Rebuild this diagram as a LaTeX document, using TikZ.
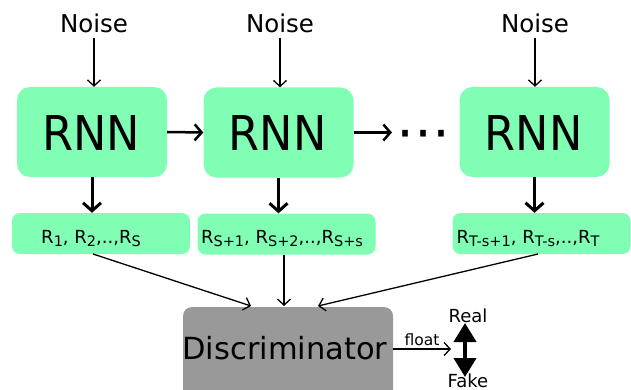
\documentclass[tikz,border=0pt]{standalone}
\usepackage{fontspec}
\setmainfont{DejaVu Sans}
\newfontfamily\condfont[FakeStretch=0.93]{DejaVu Sans}
\usetikzlibrary{arrows.meta}
\definecolor{mint}{RGB}{128,255,180}
\definecolor{discgray}{RGB}{153,153,153}
\newcommand\rsub[1]{\raisebox{-3.5pt}{\fontsize{14.5}{16}\selectfont #1}}
\tikzset{
  rnnbox/.style={fill=mint, rounded corners=13pt, minimum width=150pt, minimum height=90pt, inner sep=0pt},
  rbox/.style={fill=mint, rounded corners=8pt, minimum width=178pt, minimum height=41pt, inner sep=0pt},
  discbox/.style={fill=discgray, rounded corners=9pt, minimum width=210pt, minimum height=95pt, inner sep=0pt},
  noiselbl/.style={font=\fontsize{24.5}{26}\selectfont, anchor=base, inner sep=0pt},
  thinarrow/.style={line width=1.3pt, -{Straight Barb[length=6pt,width=13pt,line width=1.3pt]}},
  thickarrow/.style={line width=3pt, -{Straight Barb[length=8pt,width=18pt,line width=3pt]}},
  midarrow/.style={line width=2.5pt, -{Straight Barb[length=7pt,width=16pt,line width=2.5pt]}},
  biglbl/.style={font=\condfont\fontsize{48}{50}\selectfont, anchor=base, inner sep=0pt},
  rlbl/.style={font=\fontsize{18}{20}\selectfont, anchor=base, inner sep=0pt},
  smalllbl/.style={font=\fontsize{18}{20}\selectfont, anchor=base, inner sep=0pt},
}
\begin{document}
\begin{tikzpicture}[x=1pt,y=-1pt]
\clip (0,0) rectangle (631,390);
\useasboundingbox (0,0) rectangle (631,390);

% RNN boxes
\node[rnnbox] (rnn1) at (92,132) {};
\node[rnnbox] (rnn2) at (278.5,132.5) {};
\node[rnnbox] (rnn3) at (534.5,132) {};
\node[biglbl] at (91,150) {RNN};
\node[biglbl] at (277.5,150.5) {RNN};
\node[biglbl] at (533.5,150) {RNN};

% Noise labels
\node[noiselbl] (nz1) at (94,33) {Noise};
\node[noiselbl] (nz2) at (280,33) {Noise};
\node[noiselbl] (nz3) at (535,33) {Noise};
\draw[thinarrow] (nz1.south |- 0,38) -- (nz1.south |- rnn1.north);
\draw[thinarrow] (nz2.south |- 0,38) -- (nz2.south |- rnn2.north);
\draw[thinarrow] (nz3.south |- 0,38) -- (nz3.south |- rnn3.north);

% dots
\node[font=\fontsize{54}{56}\selectfont, anchor=base, inner sep=0pt] (dots) at (423,151) {⋯};

% horizontal arrows
\draw[midarrow] (rnn1.east) -- (rnn2.west);
\draw[midarrow] (rnn2.east) -- (392,132.5);

% R boxes
\node[rbox] (r1) at (101,233.5) {};
\node[rbox] (r2) at (286.5,234) {};
\node[rbox] (r3) at (541.5,233.5) {};
\node[rlbl] at (91,243) {R\rsub{1}, R\rsub{2},..,R\rsub{S}};
\node[rlbl] at (282,243) {R\rsub{S+1}, R\rsub{S+2},..,R\rsub{S+s}};
\node[rlbl] at (528,243) {R\rsub{T-s+1}, R\rsub{T-s},..,R\rsub{T}};

% thick arrows down
\draw[thickarrow] (rnn1.south) -- (rnn1.south |- r1.north);
\draw[thickarrow] (rnn2.south) -- (rnn2.south |- r2.north);
\draw[thickarrow] (rnn3.south) -- (rnn3.south |- r3.north);

% Discriminator
\node[discbox] (disc) at (288,354.5) {};
\node[font=\fontsize{30.5}{33}\selectfont, anchor=base, inner sep=0pt] at (285,359) {Discriminator};

\draw[thinarrow] (93,254) -- (251,306);
\draw[thinarrow] (284,254.5) -- (284,306);
\draw[thinarrow] (538,254) -- (318,306);

% output
\coordinate (outend) at (451,349);
\draw[thinarrow] (disc.east |- outend) -- node[above=3pt, font=\fontsize{15.5}{17}\selectfont, inner sep=0pt] {float} (outend);

\node[smalllbl] (real) at (468,322) {Real};
\node[smalllbl] (fake) at (468,387) {Fake};
\coordinate (dtop) at (465,323);
\coordinate (dbot) at (465,377);
\draw[line width=4pt, {Triangle[length=19pt,width=22pt]}-{Triangle[length=19pt,width=22pt]}] (dtop) -- (dbot);
\end{tikzpicture}
\end{document}
